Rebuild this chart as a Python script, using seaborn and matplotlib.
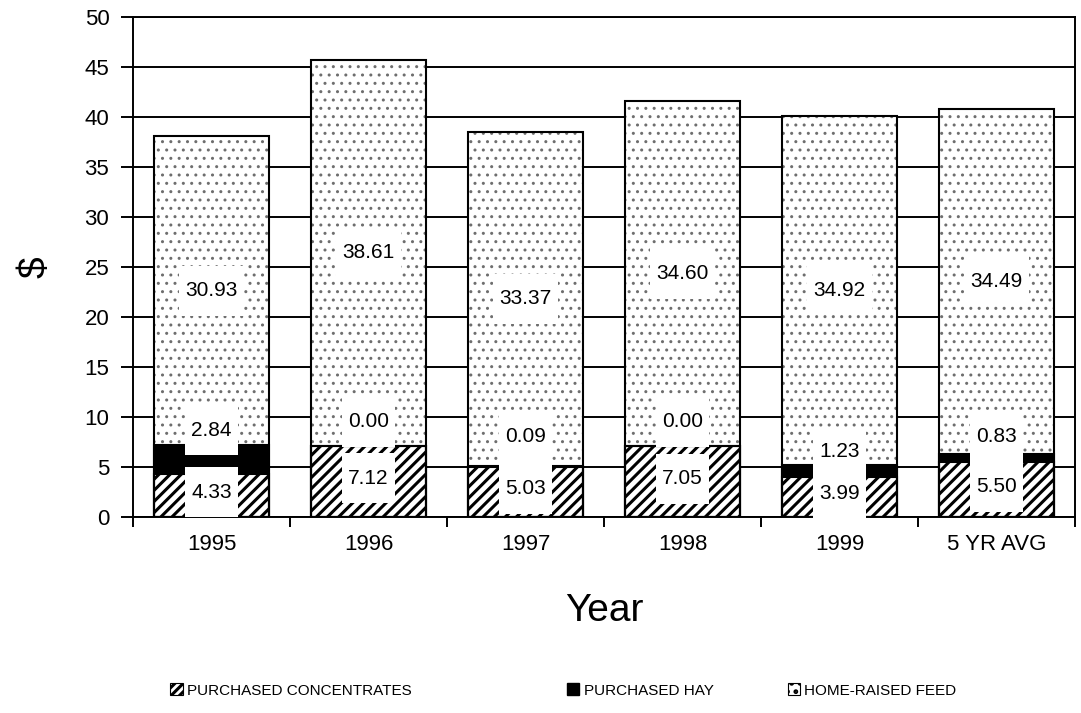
import matplotlib
matplotlib.use("Agg")
import matplotlib.pyplot as plt
import seaborn as sns
import pandas as pd
import numpy as np
from matplotlib.patches import Patch

years = ["1995", "1996", "1997", "1998", "1999", "5 YR AVG"]
concentrates = [4.33, 7.12, 5.03, 7.05, 3.99, 5.50]
hay = [2.84, 0.00, 0.09, 0.00, 1.23, 0.83]
home_raised = [30.93, 38.61, 33.37, 34.60, 34.92, 34.49]
# extra lift of the hay labels above the top of the hay segment
hay_label_lift = [1.5, 2.4, 2.9, 2.45, 1.3, 1.7]

sns.set_theme(style="white")
plt.rcParams["font.family"] = ["Liberation Sans", "DejaVu Sans"]
plt.rcParams["text.color"] = "black"
plt.rcParams["axes.labelcolor"] = "black"
plt.rcParams["xtick.color"] = "black"
plt.rcParams["ytick.color"] = "black"

df = pd.DataFrame({"year": years, "conc": concentrates, "hay": hay, "home": home_raised})
df["conc_hay"] = df["conc"] + df["hay"]
df["total"] = df["conc_hay"] + df["home"]

fig = plt.figure(figsize=(10.81, 7.13), dpi=100)
ax = fig.add_axes([0.123, 0.275, 0.8715, 0.701])

W = 0.73

def layer(col, face, hatch, hatch_col, hatch_lw):
    plt.rcParams["hatch.linewidth"] = hatch_lw
    start = len(ax.patches)
    sns.barplot(data=df, x="year", y=col, order=years, color=face, width=W,
                saturation=1, ax=ax, zorder=2)
    for p in ax.patches[start:]:
        p.set_facecolor(face)
        p.set_edgecolor(hatch_col)
        p.set_hatch(hatch)
        p.set_linewidth(0)

# stacked layers drawn from the tallest down
layer("total", "white", "..", "#6e6e6e", 1.0)
layer("conc_hay", "black", None, "black", 1.0)
layer("conc", "white", "///", "black", 2.2)

# black outlines for every segment
for col in ["total", "conc_hay", "conc"]:
    start = len(ax.patches)
    sns.barplot(data=df, x="year", y=col, order=years, width=W, fill=False,
                ax=ax, zorder=3)
    for p in ax.patches[start:]:
        p.set_edgecolor("black")
        p.set_linewidth(1.5)
        p.set_hatch(None)

box = dict(boxstyle="square,pad=0.3", fc="white", ec="none")
fs = 15
lsp = 0.36
for i in range(len(years)):
    c = concentrates[i]
    h = hay[i]
    r = home_raised[i]
    ax.text(i, c / 2 + 0.3, f"\n{c:.2f}\n", ha="center", va="center", fontsize=fs,
            linespacing=lsp, bbox=box, zorder=5)
    ax.text(i, c + h + hay_label_lift[i], f"\n{h:.2f}\n", ha="center", va="center",
            fontsize=fs, linespacing=lsp, bbox=box, zorder=5)
    ax.text(i, c + h + r / 2, f"\n{r:.2f}\n", ha="center", va="center", fontsize=fs,
            linespacing=lsp, bbox=box, zorder=5)

ax.set_ylim(0, 50)
ax.set_xlim(-0.5, len(years) - 0.5)
ax.set_yticks(np.arange(0, 51, 5))
ax.yaxis.grid(True, color="black", linewidth=1.4, zorder=0)
ax.set_axisbelow(True)
for s in ax.spines.values():
    s.set_color("black")
    s.set_linewidth(1.4)

ax.tick_params(axis="y", which="major", direction="out", length=9, width=1.4,
               labelsize=16, pad=8, left=True, color="black")
ax.tick_params(axis="x", which="major", length=0, labelsize=16, pad=12)
ax.set_xticks(np.arange(-0.5, len(years), 1), minor=True)
ax.tick_params(axis="x", which="minor", direction="out", length=7, width=1.4,
               bottom=True, color="black")

ax.set_xlabel("Year", fontsize=28, labelpad=28)
ax.set_ylabel("$", fontsize=28, labelpad=22)

handles = [
    Patch(facecolor="white", edgecolor="black", hatch="////", linewidth=0.8,
          label="PURCHASED CONCENTRATES"),
    Patch(facecolor="black", edgecolor="black", label="PURCHASED HAY"),
    Patch(facecolor="white", edgecolor="black", hatch="..", linewidth=0.8,
          label="HOME-RAISED FEED"),
]
for hnd, x0 in zip(handles, [0.152, 0.519, 0.723]):
    fig.legend(handles=[hnd], loc="lower left", bbox_to_anchor=(x0, 0.013),
               frameon=False, fontsize=11, handlelength=0.8, handleheight=0.8,
               handletextpad=0.3, borderaxespad=0)

fig.savefig("out.png", dpi=100)
